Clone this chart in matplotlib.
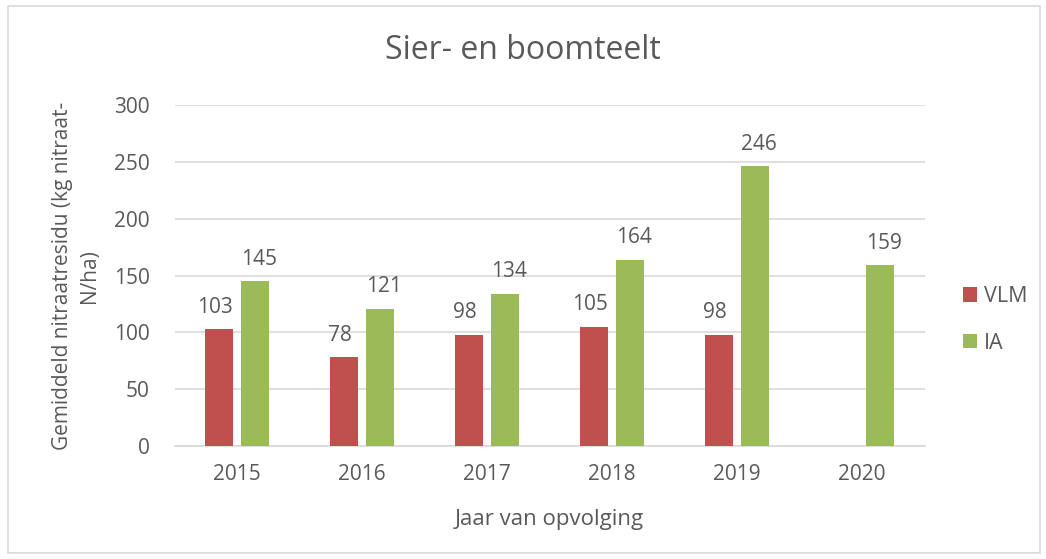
import numpy as np
import matplotlib.pyplot as plt
from matplotlib.patches import Rectangle

# Data
years = ['2015', '2016', '2017', '2018', '2019', '2020']
vlm = [103, 78, 98, 105, 98, None]
ia = [145, 121, 134, 164, 246, 159]

RED = '#C0504D'
GREEN = '#9BBB59'
TXT = '#595959'
GRID = '#D9D9D9'

plt.rcParams['font.family'] = ['Open Sans', 'DejaVu Sans']

fig = plt.figure(figsize=(10.46, 5.59), dpi=100)
ax = fig.add_axes([0.167, 0.202, 0.717, 0.610])

x = np.arange(len(years))
w = 0.225
off = 0.145

vlm_x = [xi - off for xi, v in zip(x, vlm) if v is not None]
vlm_y = [v for v in vlm if v is not None]
ax.bar(vlm_x, vlm_y, width=w, color=RED, label='VLM', zorder=3)
ax.bar(x + off, ia, width=w, color=GREEN, label='IA', zorder=3)

for xi, v in zip(vlm_x, vlm_y):
    ax.text(xi - 0.03, v + 10, str(v), ha='center', va='bottom', fontsize=15, color=TXT)
for xi, v in zip(x + off, ia):
    ax.text(xi + 0.03, v + 10, str(v), ha='center', va='bottom', fontsize=15, color=TXT)

ax.set_xlim(-0.5, len(years) - 0.5)
ax.set_ylim(0, 300)
ax.set_yticks(range(0, 301, 50))
ax.set_xticks(x)
ax.set_xticklabels(years)
ax.grid(axis='y', color=GRID, linewidth=1.2, zorder=0)
for s in ['top', 'right', 'left']:
    ax.spines[s].set_visible(False)
ax.spines['bottom'].set_color(GRID)
ax.spines['bottom'].set_linewidth(1.2)
ax.tick_params(axis='both', length=0, labelsize=15, colors=TXT)
ax.tick_params(axis='y', pad=18)
ax.tick_params(axis='x', pad=13)

ax.set_xlabel('Jaar van opvolging', fontsize=16, color=TXT, labelpad=17)
ax.set_ylabel('Gemiddeld nitraatresidu (kg nitraat-\nN/ha)', fontsize=15, color=TXT,
              labelpad=10, linespacing=1.4)

fig.text(0.5, 0.91, 'Sier- en boomteelt', ha='center', va='center', fontsize=23, color=TXT)

leg = ax.legend(loc='center left', bbox_to_anchor=(1.025, 0.37), frameon=False,
                fontsize=15.5, handlelength=0.65, handleheight=0.65, labelspacing=1.2,
                handletextpad=0.35)
for t in leg.get_texts():
    t.set_color(TXT)

# outer chart border
fig.patches.append(Rectangle((0.008, 0.011), 0.986, 0.978, transform=fig.transFigure,
                             fill=False, edgecolor=GRID, linewidth=1.2))

fig.savefig('out.png', dpi=100, facecolor='white')
